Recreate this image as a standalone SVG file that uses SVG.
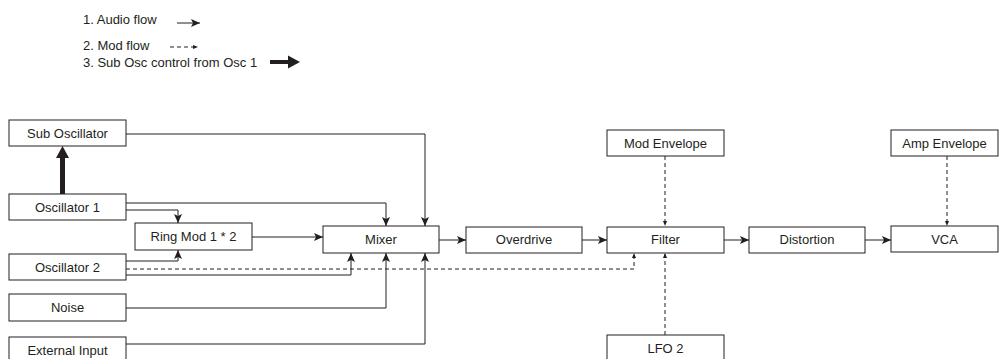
<svg xmlns="http://www.w3.org/2000/svg" width="999" height="359" viewBox="0 0 999 359">
<style>
.box{fill:#fff;stroke:#231f20;stroke-width:1}
.lbl{font-family:"Liberation Sans",Arial,sans-serif;font-size:13px;fill:#231f20;text-anchor:middle}
.leg{font-family:"Liberation Sans",Arial,sans-serif;font-size:13px;fill:#231f20}
.audio{fill:none;stroke:#231f20;stroke-width:1;marker-end:url(#ah)}
.mod{fill:none;stroke:#231f20;stroke-width:1;stroke-dasharray:4 3;marker-end:url(#mh)}
.thick{fill:#231f20}
</style>
<defs>
<marker id="ah" markerUnits="userSpaceOnUse" viewBox="0 0 9 8" refX="9" refY="4" markerWidth="9" markerHeight="8" orient="auto">
<path d="M0,0 L9,4 L0,8 L2,4 Z" fill="#231f20"/>
</marker>
<marker id="mh" markerUnits="userSpaceOnUse" viewBox="0 0 5 4" refX="5" refY="2" markerWidth="5" markerHeight="4" orient="auto">
<path d="M0,0 L5,2 L0,4 Z" fill="#231f20"/>
</marker>
</defs>
<rect width="999" height="359" fill="#fff"/>
<g id="legend">
<text class="leg" x="83" y="24">1. Audio flow</text>
<path class="audio" d="M177,23 H200"/>
<text class="leg" x="83" y="50">2. Mod flow</text>
<path class="mod" d="M170,47 H198"/>
<text class="leg" x="83" y="67">3. Sub Osc control from Osc 1</text>
<rect class="thick" x="270" y="60" width="19" height="4"/>
<polygon class="thick" points="288,55.5 300,62 288,68.5"/>
</g>
<g id="connectors">
<path class="audio" d="M126,134 H425 V226"/>
<path class="audio" d="M126,203 H386 V226"/>
<path class="audio" d="M126,210 H178 V223"/>
<path class="audio" d="M126,261 H178 V250"/>
<path class="audio" d="M126,275 H351 V253"/>
<path class="audio" d="M126,308 H386 V253"/>
<path class="audio" d="M126,344 H425 V253"/>
<path class="audio" d="M252,237 H323"/>
<path class="audio" d="M439,240 H466"/>
<path class="audio" d="M582,240 H607"/>
<path class="audio" d="M724,240 H749"/>
<path class="audio" d="M865,240 H891"/>
<path class="mod" d="M126,269 H634 V253"/>
<path class="mod" d="M665,156 V226"/>
<path class="mod" d="M665,335 V253"/>
<path class="mod" d="M947,156 V226"/>
<rect class="thick" x="60" y="157" width="5" height="37"/>
<polygon class="thick" points="56,158 62.5,146 69,158"/>
</g>
<g id="sub-osc"><rect class="box" x="9" y="120" width="117" height="26"/><text class="lbl" x="67.5" y="138">Sub Oscillator</text></g>
<g id="osc1"><rect class="box" x="9" y="194" width="117" height="26"/><text class="lbl" x="67.5" y="212">Oscillator 1</text></g>
<g id="ring-mod"><rect class="box" x="135" y="223" width="117" height="27"/><text class="lbl" x="193.5" y="241">Ring Mod 1 * 2</text></g>
<g id="osc2"><rect class="box" x="9" y="254" width="117" height="26"/><text class="lbl" x="67.5" y="272">Oscillator 2</text></g>
<g id="noise"><rect class="box" x="9" y="294" width="117" height="27"/><text class="lbl" x="67.5" y="312">Noise</text></g>
<g id="ext-input"><rect class="box" x="9" y="337" width="117" height="27"/><text class="lbl" x="67.5" y="355">External Input</text></g>
<g id="mixer"><rect class="box" x="323" y="226" width="116" height="27"/><text class="lbl" x="381" y="244">Mixer</text></g>
<g id="overdrive"><rect class="box" x="466" y="227" width="116" height="26"/><text class="lbl" x="524" y="244">Overdrive</text></g>
<g id="filter"><rect class="box" x="607" y="227" width="117" height="26"/><text class="lbl" x="665.5" y="244">Filter</text></g>
<g id="distortion"><rect class="box" x="749" y="227" width="116" height="26"/><text class="lbl" x="807" y="244">Distortion</text></g>
<g id="vca"><rect class="box" x="891" y="226" width="107" height="26"/><text class="lbl" x="944.5" y="244">VCA</text></g>
<g id="mod-env"><rect class="box" x="607" y="130" width="117" height="26"/><text class="lbl" x="665.5" y="148">Mod Envelope</text></g>
<g id="amp-env"><rect class="box" x="891" y="130" width="107" height="26"/><text class="lbl" x="944.5" y="148">Amp Envelope</text></g>
<g id="lfo2"><rect class="box" x="607" y="335" width="117" height="30"/><text class="lbl" x="665.5" y="353">LFO 2</text></g>
</svg>
